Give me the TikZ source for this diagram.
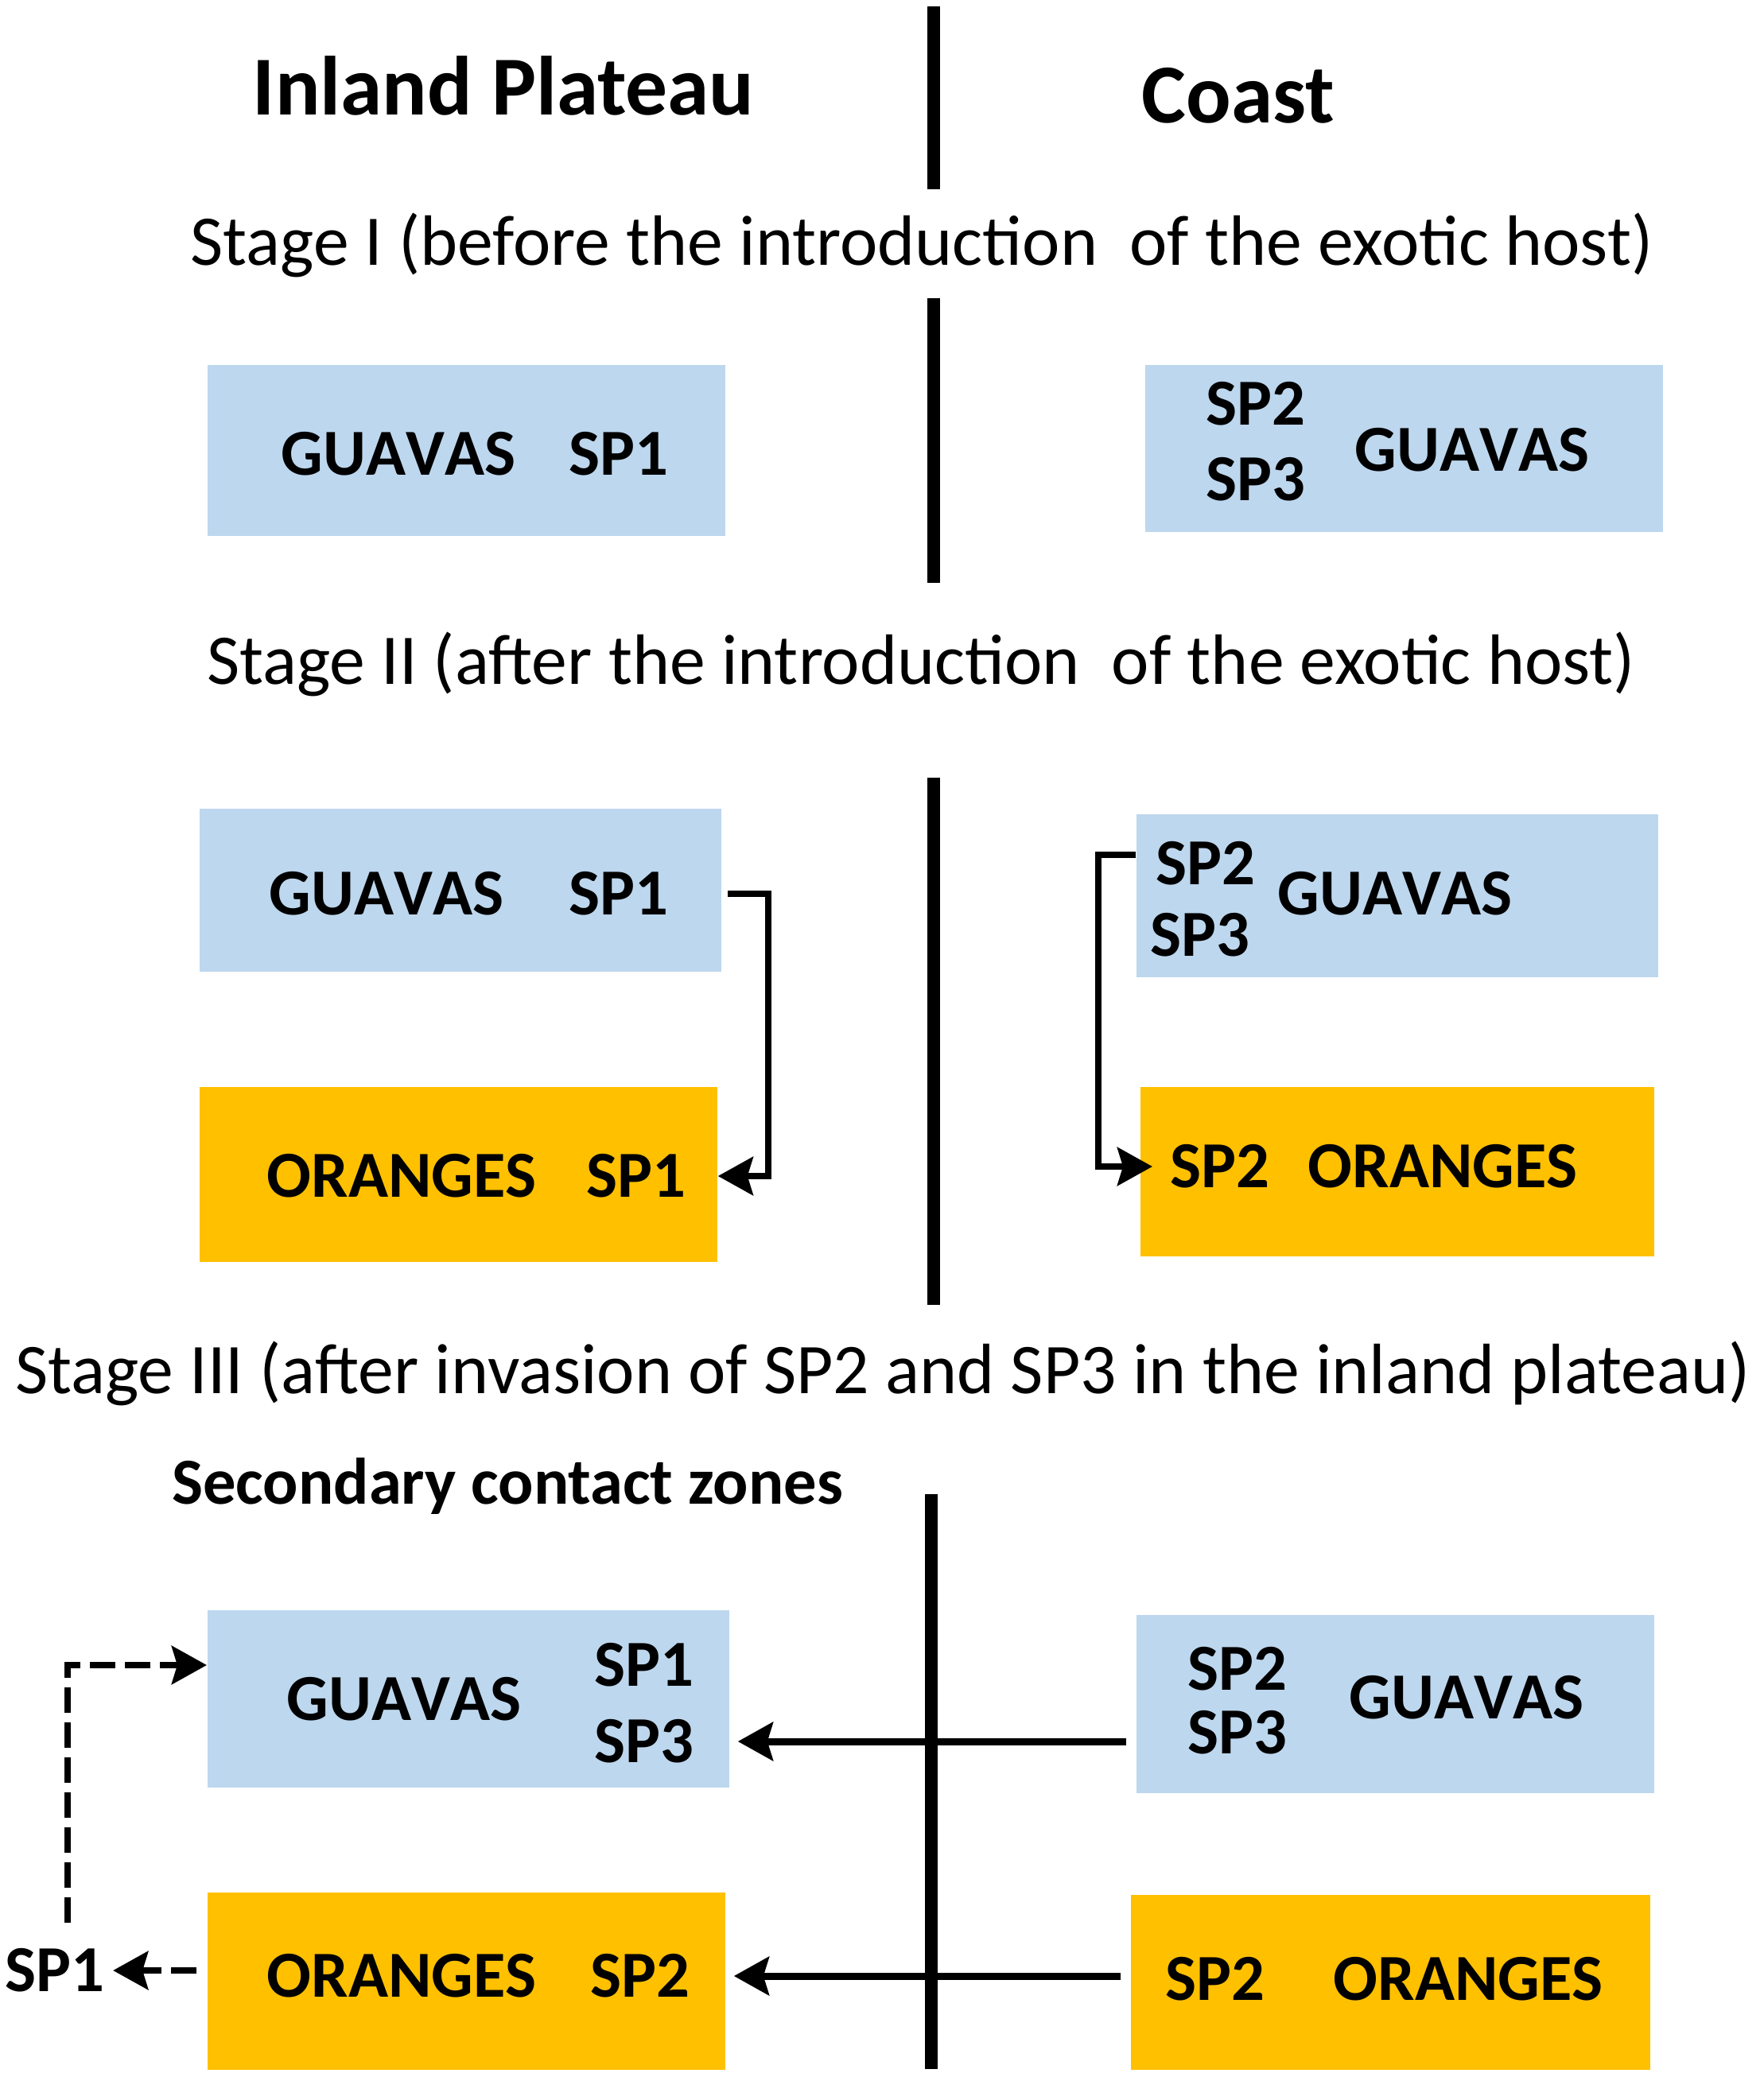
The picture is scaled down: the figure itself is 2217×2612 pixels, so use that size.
\documentclass[tikz,border=0pt]{standalone}
\usepackage{fontspec}
\setmainfont{Carlito}
\usetikzlibrary{arrows.meta,positioning}

\definecolor{guavablue}{HTML}{BDD7EE}
\definecolor{orangefill}{HTML}{FFC000}

\begin{document}
\begin{tikzpicture}[x=0.01cm,y=-0.01cm,
		guavabox/.style={rectangle,inner sep=0pt,anchor=north west,fill=guavablue},
		orangebox/.style={rectangle,inner sep=0pt,anchor=north west,fill=orangefill},
		lbl/.style={inner sep=0pt,font=\fontsize{23.5}{28}\selectfont\bfseries},
		fruit/.style={lbl,font=\fontsize{23.5}{28}\selectfont\bfseries\addfontfeatures{Kerning=Off}},
		head/.style={inner sep=0pt,font=\fontsize{30}{36}\selectfont\bfseries},
		stage/.style={inner sep=0pt,font=\fontsize{25.5}{30}\selectfont},
		divider/.style={line width=0.16cm},
		link/.style={line width=0.08cm,-{Stealth[length=0.44cm,width=0.48cm,inset=0.07cm]}},
		dlink/.style={link,dash pattern=on 0.32cm off 0.12cm}]
	\useasboundingbox (0,0) rectangle (2217,2612);

	% headings
	\node[head] (inland) at (633,108) {Inland Plateau};
	\node[head] (coast) at (1557,120) {Coast};
	\node[stage] (stage1) at (1159,308) {Stage I (before the introduction\ \ of the exotic host)};
	\node[stage] (stage2) at (1158,835) {Stage II (after the introduction\ \ of the exotic host)};
	\node[stage] (stage3) at (1110,1727) {Stage III (after invasion of SP2 and SP3 in the inland plateau)};
	\node[lbl] (zones) at (638,1869) {Secondary contact zones};

	% dividers
	\coordinate (d1top) at (1174,8);    \coordinate (d1bot) at (1174,238);
	\coordinate (d2top) at (1174,375);  \coordinate (d2bot) at (1174,733);
	\coordinate (d3top) at (1174,978);  \coordinate (d3bot) at (1174,1641);
	\coordinate (d4top) at (1171,1879); \coordinate (d4bot) at (1171,2602);
	\draw[divider] (d1top) -- (d1bot);
	\draw[divider] (d2top) -- (d2bot);
	\draw[divider] (d3top) -- (d3bot);
	\draw[divider] (d4top) -- (d4bot);

	% stage I
	\node[guavabox,minimum width=6.51cm,minimum height=2.15cm] (a1) at (260,458) {};
	\node[guavabox,minimum width=6.51cm,minimum height=2.10cm] (b1) at (1439,458) {};
	\node[fruit] (a1g) at (501,571) {GUAVAS};
	\node[lbl] (a1s) at (778,571) {SP1};
	\node[lbl] (b1s2) at (1579,508) {SP2};
	\node[lbl] (b1s3) at (1579,603) {SP3};
	\node[fruit] (b1g) at (1851,566) {GUAVAS};

	% stage II
	\node[guavabox,minimum width=6.56cm,minimum height=2.05cm] (a2) at (250,1016) {};
	\node[orangebox,minimum width=6.51cm,minimum height=2.20cm] (a3) at (250,1366) {};
	\node[guavabox,minimum width=6.56cm,minimum height=2.05cm] (b2) at (1428,1023) {};
	\node[orangebox,minimum width=6.46cm,minimum height=2.13cm] (b3) at (1433,1366) {};
	\node[fruit] (a2g) at (486,1124) {GUAVAS};
	\node[lbl] (a2s) at (778,1124) {SP1};
	\node[lbl] (a3o) at (505,1479) {ORANGES};
	\node[lbl] (a3s) at (800,1479) {SP1};
	\node[lbl] (b2s2) at (1516,1086) {SP2};
	\node[lbl] (b2s3) at (1509,1176) {SP3};
	\node[fruit] (b2g) at (1754,1124) {GUAVAS};
	\node[lbl] (b3s) at (1534,1467) {SP2};
	\node[lbl] (b3o) at (1814,1467) {ORANGES};

	\draw[link,shorten <=0.07cm] (a2.east |- a2s) -- ++(58,0) |- (a3.east |- a3s);
	\draw[link] ([yshift=0.11cm]b2.west |- b2s2) -- ++(-47,0) |- ([xshift=0.16cm]b3.west |- b3s);

	% stage III
	\node[guavabox,minimum width=6.56cm,minimum height=2.23cm] (a4) at (260,2024) {};
	\node[guavabox,minimum width=6.51cm,minimum height=2.24cm] (b4) at (1428,2030) {};
	\node[orangebox,minimum width=6.51cm,minimum height=2.23cm] (a5) at (260,2379) {};
	\node[orangebox,minimum width=6.53cm,minimum height=2.20cm] (b5) at (1421,2382) {};
	\node[fruit] (a4g) at (508,2137) {GUAVAS};
	\node[lbl] (a4s1) at (810,2094) {SP1};
	\node[lbl] (a4s3) at (810,2190) {SP3};
	\node[lbl] (b4s2) at (1556,2099) {SP2};
	\node[lbl] (b4s3) at (1556,2179) {SP3};
	\node[fruit] (b4g) at (1844,2135) {GUAVAS};
	\node[lbl] (a5o) at (505,2485) {ORANGES};
	\node[lbl] (a5s) at (805,2485) {SP2};
	\node[lbl] (b5s) at (1528,2489) {SP2};
	\node[lbl] (b5o) at (1846,2489) {ORANGES};
	\node[lbl] (sp1out) at (69,2478) {SP1};

	\draw[link,line width=0.09cm,shorten <=0.12cm,shorten >=0.1cm] (b4.west |- a4s3) -- (a4.east |- a4s3);
	\draw[link,line width=0.09cm,shorten <=0.12cm,shorten >=0.1cm] (b5.west |- a5s) -- (a5.east |- a5s);
	\draw[dlink,shorten <=0.13cm,shorten >=0.1cm] (a5.west |- sp1out) -- (sp1out.east);
	\coordinate (upstart) at (85,2418);
	\draw[dlink] (upstart) |- (a4.west |- a4s1);
\end{tikzpicture}
\end{document}
